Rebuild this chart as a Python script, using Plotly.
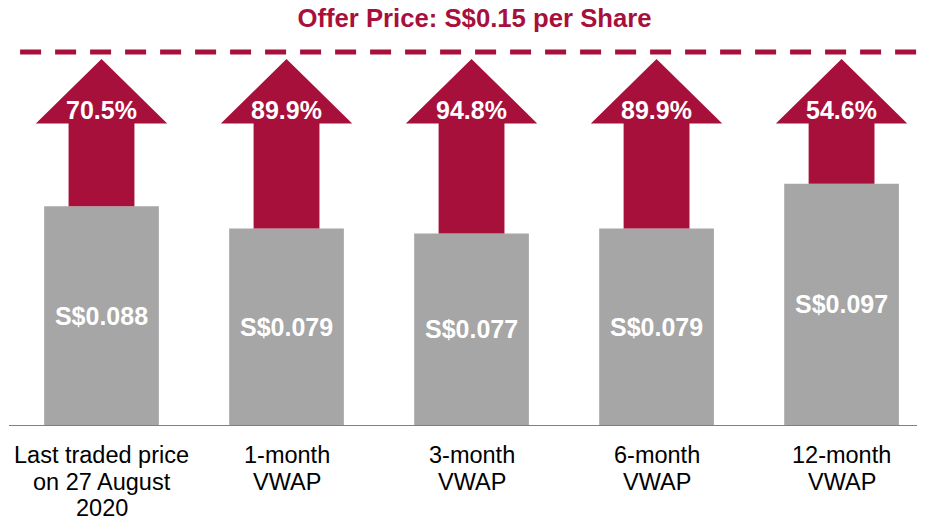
import plotly.graph_objects as go

# ---- data ----
categories = ["Last traded price<br>on 27 August<br>2020", "1-month<br>VWAP", "3-month<br>VWAP",
              "6-month<br>VWAP", "12-month<br>VWAP"]
prices = [0.088, 0.079, 0.077, 0.079, 0.097]
price_labels = ["S$0.088", "S$0.079", "S$0.077", "S$0.079", "S$0.097"]
premiums = ["70.5%", "89.9%", "94.8%", "89.9%", "54.6%"]
offer_price = 0.15
title_text = "Offer Price: S$0.15 per Share"

# ---- style ----
RED = "#A8103C"
GREY = "#A6A6A6"
FONT = "Arial, Liberation Sans, sans-serif"
BAR_W = 0.62
SHAFT_HW = 0.178
HEAD_HW = 0.355
TIP_GAP = 0.0028
HEAD_H = 0.026
LABEL_SIZE = 23.5
LINE_PITCH = 26.7
PAGE_OFF = 8          # default page body margin
W, H = 925 - PAGE_OFF, 517 - PAGE_OFF

xs = list(range(len(categories)))

fig = go.Figure()

fig.add_trace(go.Bar(
    x=xs, y=prices, width=BAR_W, marker=dict(color=GREY, line=dict(width=0)),
    text=["<b>%s</b>" % t for t in price_labels], textposition="inside",
    insidetextanchor="middle", textangle=0,
    textfont=dict(family=FONT, size=25, color="white"),
    hoverinfo="skip", showlegend=False,
))

# arrows from each bar top up to the offer price
ax, ay = [], []
tip = offer_price - TIP_GAP
hb = tip - HEAD_H
for x, v in zip(xs, prices):
    ax += [x - SHAFT_HW, x - SHAFT_HW, x - HEAD_HW, x, x + HEAD_HW, x + SHAFT_HW, x + SHAFT_HW, x - SHAFT_HW, None]
    ay += [v, hb, hb, tip, hb, hb, v, v, None]
fig.add_trace(go.Scatter(
    x=ax, y=ay, mode="lines", fill="toself", fillcolor=RED,
    line=dict(width=0, color=RED), hoverinfo="skip", showlegend=False,
))

# offer price dashed line
fig.add_trace(go.Scatter(
    x=[-0.44, 4.451], y=[offer_price, offer_price], mode="lines",
    line=dict(color=RED, width=5, dash="21px,14px"),
    hoverinfo="skip", showlegend=False, cliponaxis=False,
))

for x, p in zip(xs, premiums):
    fig.add_annotation(x=x, y=hb + 0.0055, text="<b>%s</b>" % p, showarrow=False,
                       font=dict(family=FONT, size=25, color="white"), yanchor="middle")

# category labels, one line per annotation for tight line spacing
for x, cat in zip(xs, categories):
    for k, line in enumerate(cat.split("<br>")):
        fig.add_annotation(x=x, y=0, text=line, showarrow=False, yanchor="middle",
                           yshift=-(30 + k * LINE_PITCH),
                           font=dict(family=FONT, size=LABEL_SIZE, color="#000000"))

fig.update_layout(
    width=W, height=H,
    margin=dict(l=1, r=0, t=12, b=92, autoexpand=False),
    paper_bgcolor="white", plot_bgcolor="white",
    title=dict(text="<b>%s</b>" % title_text, x=(474.5 - PAGE_OFF) / W, xanchor="center",
               xref="container", yref="container", y=1 - (18 - PAGE_OFF) / H, yanchor="middle",
               automargin=False,
               font=dict(family=FONT, size=25.7, color=RED)),
    xaxis=dict(range=[-0.5, 4.451], tickvals=xs, showticklabels=False,
               showgrid=False, zeroline=False, showline=True, linecolor="#808080", linewidth=1,
               ticks="", automargin=False, fixedrange=True),
    yaxis=dict(range=[0, 405 / 2487], visible=False, showgrid=False, zeroline=False,
               automargin=False, fixedrange=True),
)

fig.write_html("out.html")
